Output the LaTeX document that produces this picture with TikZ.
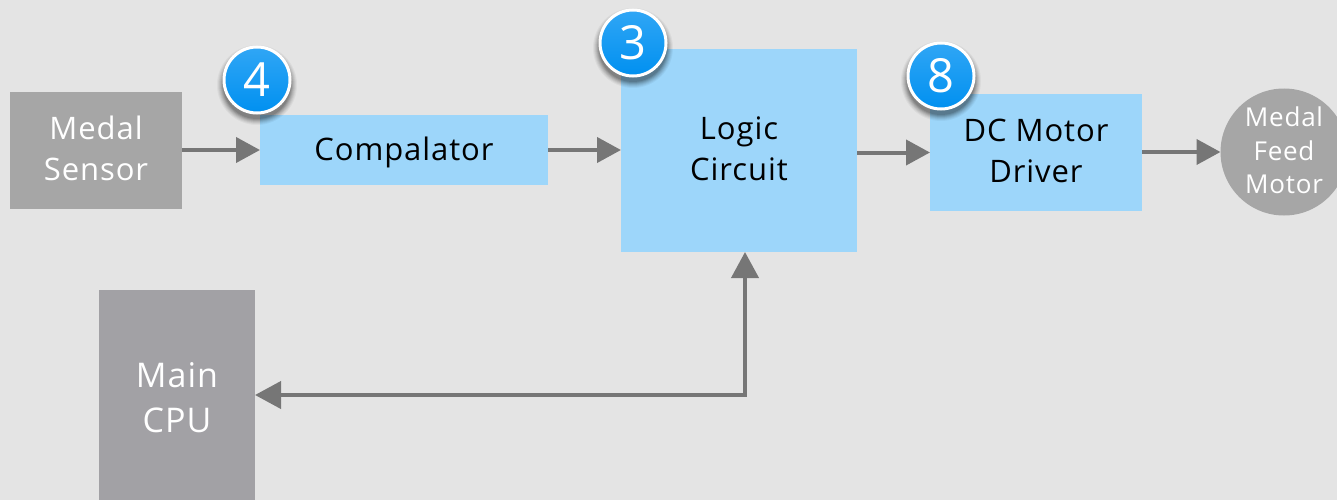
\documentclass[tikz,border=0pt]{standalone}
\usepackage{fontspec}
\setmainfont{Open Sans}[LetterSpace=3]
\usetikzlibrary{arrows.meta,calc}
\definecolor{bgc}{HTML}{E4E4E4}
\definecolor{lblue}{HTML}{9DD6FA}
\definecolor{sgray}{HTML}{A6A6A6}
\definecolor{cgray}{HTML}{A2A1A5}
\definecolor{lin}{HTML}{767676}
\definecolor{badgetop}{HTML}{30A6F5}
\definecolor{badgebot}{HTML}{0090F0}
\tikzset{
  x=1pt,y=-1pt,
  box/.style={rectangle,inner sep=0pt,outer sep=0pt},
  tx/.style={align=center,inner sep=0pt,font=\fontsize{31}{41}\selectfont},
  bluebox/.style={box,fill=lblue},
  graybox/.style={box,fill=sgray},
  flow/.style={draw=lin,line width=4pt,-{Triangle[length=24pt,width=25pt]}},
  badge/.style={circle,minimum size=66pt,inner sep=0pt,outer sep=0pt,draw=white,line width=3pt,
    top color=badgetop,bottom color=badgebot,text=white,font=\fontsize{47}{47}\selectfont}
}
\newcommand{\badgeshadow}[2]{%
  \foreach \r/\o in {40/.04,39/.05,38/.06,37/.07,36/.09,35/.10,34/.11}{
    \fill[black,opacity=\o] ($(#1,#2)+(0,5)$) circle[radius=\r];
  }}
\begin{document}
\begin{tikzpicture}
\useasboundingbox (0,0) rectangle (1337,500);
\clip (0,0) rectangle (1337,500);
\fill[bgc] (0,0) rectangle (1337,500);
\node[graybox,minimum width=172pt,minimum height=117pt,label={[tx,text=white,yshift=2pt]center:Medal\\Sensor}] (sensor) at (96,150.5) {};
\node[bluebox,minimum width=288pt,minimum height=70pt,label={[tx,text=black,yshift=-2pt]center:Compalator}] (comp) at (404,150) {};
\node[bluebox,minimum width=236pt,minimum height=203pt,label={[tx,text=black,yshift=1.7pt]center:Logic\\Circuit}] (logic) at (739,150.5) {};
\node[bluebox,minimum width=212pt,minimum height=117pt,label={[tx,text=black,yshift=1.7pt]center:DC Motor\\Driver}] (driver) at (1036,152.5) {};
\node[circle,fill=sgray,minimum size=127pt,inner sep=0pt,outer sep=0pt,label={[tx,text=white,yshift=1.5pt,font=\fontsize{26}{33.5}\selectfont]center:Medal\\Feed\\Motor}] (motor) at (1284,152) {};
\node[box,fill=cgray,minimum width=156pt,minimum height=210pt,label={[tx,text=white,yshift=-3pt,font=\fontsize{34}{45}\selectfont]center:Main\\CPU}] (cpu) at (177,395) {};
\draw[flow] (sensor.east |- comp.west) -- (comp.west);
\draw[flow] (comp.east) -- (logic.west |- comp.east);
\draw[flow] (logic.east |- driver.east) -- (driver.west);
\draw[flow] (driver.east |- motor.west) -- (motor.west);
\draw[draw=lin,line width=4pt,{Triangle[length=26pt,width=27pt]}-{Triangle[length=26pt,width=27pt]}] (cpu.east) -| ([xshift=6pt]logic.south);
\badgeshadow{257}{80}
\node[badge] (b4) at (257,80) {4};
\badgeshadow{633}{43}
\node[badge] (b3) at (633,43) {3};
\badgeshadow{941}{76}
\node[badge] (b8) at (941,76) {8};
\end{tikzpicture}
\end{document}
